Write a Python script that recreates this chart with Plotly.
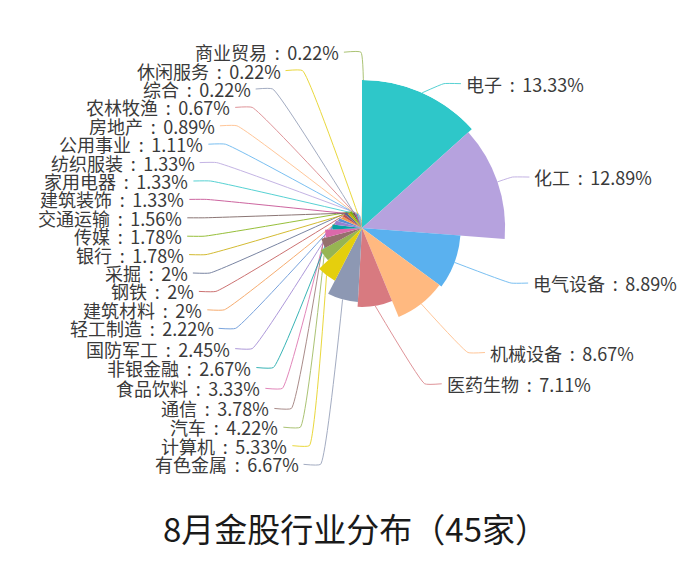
import math
import plotly.graph_objects as go

# ---------------- data ----------------
categories = ["电子", "化工", "电气设备", "机械设备", "医药生物", "有色金属", "计算机", "汽车",
              "通信", "食品饮料", "非银金融", "国防军工", "轻工制造", "建筑材料", "钢铁", "采掘",
              "银行", "传媒", "交通运输", "建筑装饰", "家用电器", "纺织服装", "公用事业", "房地产",
              "农林牧渔", "综合", "休闲服务", "商业贸易"]
shares = [13.33, 12.89, 8.89, 8.67, 7.11, 6.67, 5.33, 4.22,
          3.78, 3.33, 2.67, 2.45, 2.22, 2, 2, 2,
          1.78, 1.78, 1.56, 1.33, 1.33, 1.33, 1.11, 0.89,
          0.67, 0.22, 0.22, 0.22]
palette = ['#2ec7c9', '#b6a2de', '#5ab1ef', '#ffb980', '#d87a80', '#8d98b3', '#e5cf0d', '#97b552',
           '#95706d', '#dc69aa', '#07a2a4', '#9a7fd1', '#588dd5', '#f5994e', '#c05050', '#59678c',
           '#c9ab00', '#7eb00a', '#6f5553', '#c14089']
title_text = "8月金股行业分布（45家）"

# ---------------- layout constants (pixels of the 693x575 page) ----------------
PAGE_W, PAGE_H = 693, 575
OFF = 8                      # default body margin of the written html page
W, H = PAGE_W - 2 * OFF, PAGE_H - 2 * OFF
CX, CY = 362, 228
RMAX = 148
LEN, LEN2 = 10, 17
LABEL_H = 18.4
STEP = 9
GAP = 3
VIEW_TOP, VIEW_H = 0, 500
FONT = "Noto Sans CJK SC"

total = sum(shares)
colors = [palette[i % len(palette)] for i in range(len(shares))]
thetas, widths = [], []
cum = 0.0
for v in shares:
    widths.append(v / total * 360.0)
    thetas.append((cum + v / 2) / total * 360.0)
    cum += v

# ---------------- label layout (rose pie style) ----------------
items = []
for i, (name, v, th) in enumerate(zip(categories, shares, thetas)):
    a = math.radians(th)
    s, c = math.sin(a), math.cos(a)
    d = -1 if s < 0 else 1
    r_i = v / max(shares) * RMAX
    x2 = CX + s * (RMAX + LEN)
    y2 = CY - c * (RMAX + LEN)
    items.append(dict(i=i, dir=d, x=x2 + d * LEN2, y=y2,
                      sx=CX + s * r_i, sy=CY - c * r_i))


def change_x(lst, is_down, d):
    last = float('inf') if is_down else 0.0
    for it in lst:
        dy = abs(it['y'] - CY)
        if dy < RMAX + LEN:
            dx = math.sqrt((RMAX + LEN + LEN2) ** 2 - dy ** 2)
        else:
            dx = abs(it['x'] - CX)
        if is_down and dx >= last:
            dx = last - STEP
        if (not is_down) and dx <= last:
            dx = last + STEP
        it['x'] = CX + dx * d
        last = dx


def adjust_side(lst, d):
    lst.sort(key=lambda t: t['y'])
    n = len(lst)

    def shift_up(end, delta):
        for j in range(end, -1, -1):
            if lst[j]['y'] - delta < VIEW_TOP:
                break
            lst[j]['y'] -= delta
            if j > 0 and lst[j]['y'] > lst[j - 1]['y'] + LABEL_H:
                break

    def shift_down(start, end, delta):
        for j in range(start, end):
            if lst[j]['y'] + delta > VIEW_TOP + VIEW_H:
                break
            lst[j]['y'] += delta
            if j > start and j + 1 < end and lst[j + 1]['y'] > lst[j]['y'] + LABEL_H:
                shift_up(j, delta / 2)
                return
        shift_up(end - 1, delta / 2)

    last_y = 0
    for k in range(n):
        delta = lst[k]['y'] - last_y
        if delta < 0:
            shift_down(k, n, -delta)
        last_y = lst[k]['y'] + LABEL_H
    if VIEW_H - last_y < 0:
        shift_up(n - 1, last_y - VIEW_H)
    up = [t for t in lst if t['y'] < CY]
    down = [t for t in lst if t['y'] >= CY]
    change_x(up, False, d)
    change_x(down, True, d)


left = [t for t in items if t['dir'] < 0]
right = [t for t in items if t['dir'] > 0]
adjust_side(left, -1)
adjust_side(right, 1)

# ---------------- figure ----------------
fig = go.Figure()

fig.add_trace(go.Barpolar(
    r=shares, theta=thetas, width=widths,
    marker=dict(color=colors, line=dict(width=0)),
    hoverinfo="skip", showlegend=False,
))

annotations = []
for it in items:
    i, d = it['i'], it['dir']
    xe, y = it['x'], it['y']
    xc = xe - d * LEN2
    fig.add_trace(go.Scatter(
        x=[it['sx'], xc, xe], y=[it['sy'], y, y], mode="lines",
        line=dict(color=colors[i], width=1, shape="spline", smoothing=0.35), opacity=0.8,
        xaxis="x", yaxis="y", hoverinfo="skip", showlegend=False,
    ))
    annotations.append(dict(
        x=xe + d * GAP, y=y, xref="x", yref="y",
        text=f"{categories[i]}\u2009 : \u2009{shares[i]:g}%",
        showarrow=False, xanchor="left" if d > 0 else "right", yanchor="middle",
        font=dict(family=FONT, size=18, color="#3a3a3a"),
    ))

annotations.append(dict(
    x=355, y=528, xref="x", yref="y", text=title_text, showarrow=False,
    xanchor="center", yanchor="middle",
    font=dict(family=FONT, size=33, color="#1a1a1a"),
))

fig.update_layout(
    width=W, height=H,
    margin=dict(l=0, r=0, t=0, b=0),
    paper_bgcolor="white", plot_bgcolor="rgba(0,0,0,0)",
    showlegend=False,
    xaxis=dict(range=[OFF, OFF + W], domain=[0, 1], visible=False, fixedrange=True),
    yaxis=dict(range=[OFF + H, OFF], domain=[0, 1], visible=False, fixedrange=True),
    polar=dict(
        domain=dict(x=[(CX - RMAX - OFF) / W, (CX + RMAX - OFF) / W],
                    y=[1 - (CY + RMAX - OFF) / H, 1 - (CY - RMAX - OFF) / H]),
        hole=0,
        bgcolor="rgba(0,0,0,0)",
        radialaxis=dict(range=[0, max(shares)], visible=False),
        angularaxis=dict(rotation=90, direction="clockwise", visible=False),
    ),
    annotations=annotations,
)

fig.write_html("out.html")
